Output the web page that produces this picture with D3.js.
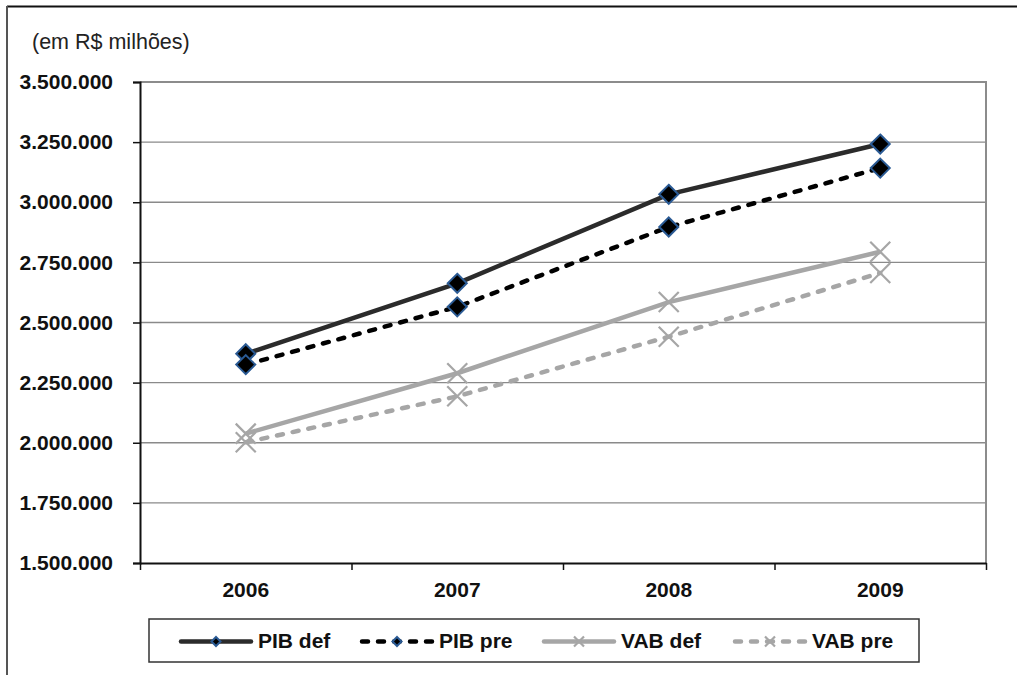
<!DOCTYPE html>
<html>
<head>
<meta charset="utf-8">
<script src="https://cdn.jsdelivr.net/npm/d3@7/dist/d3.min.js"></script>
<style>
  html, body { margin: 0; padding: 0; background: #fff; }
  svg { display: block; font-family: "Liberation Sans", Arial, sans-serif; }
</style>
</head>
<body>
<svg id="chart" width="1017" height="675"></svg>
<script>
// Years on the category axis
const years = ["2006", "2007", "2008", "2009"];

// Series values (R$ millions)
const pibDef = [2370000, 2663000, 3033000, 3242000];
const pibPre = [2325000, 2565000, 2897000, 3142000];
const vabDef = [2038000, 2289000, 2585000, 2794000];
const vabPre = [2002000, 2193000, 2441000, 2706000];

// Series names
const seriesNames = ["PIB def", "PIB pre", "VAB def", "VAB pre"];

// Value axis ticks
const yTicks = [1500000, 1750000, 2000000, 2250000, 2500000, 2750000, 3000000, 3250000, 3500000];

const unitLabel = "(em R$ milhões)";

const series = [
  { name: seriesNames[0], values: pibDef, color: "#2b2b2b", dash: null, marker: "diamond" },
  { name: seriesNames[1], values: pibPre, color: "#000000", dash: "6,10", marker: "diamond" },
  { name: seriesNames[2], values: vabDef, color: "#a6a6a6", dash: null, marker: "cross" },
  { name: seriesNames[3], values: vabPre, color: "#a6a6a6", dash: "6,10", marker: "cross" }
];

const svg = d3.select("#chart");
const plot = { left: 140, right: 986, top: 82, bottom: 563 };

const br = d3.formatLocale({ decimal: ",", thousands: ".", grouping: [3], currency: ["R$", ""] });
const fmt = br.format(",d");

const x = d3.scaleBand().domain(years).range([plot.left, plot.right]);
const xEdge = d3.scaleLinear().domain([0, years.length]).range([plot.left, plot.right]);
const y = d3.scaleLinear().domain([1500000, 3500000]).range([plot.bottom, plot.top]);

// Outer frame (top and left edges)
svg.append("line").attr("x1", 7).attr("x2", 1017).attr("y1", 6.5).attr("y2", 6.5)
  .attr("stroke", "#111").attr("stroke-width", 2);
svg.append("line").attr("x1", 7).attr("x2", 7).attr("y1", 6).attr("y2", 675)
  .attr("stroke", "#555").attr("stroke-width", 2);

// Unit label
svg.append("text").attr("x", 32).attr("y", 49)
  .attr("font-size", 21.5).attr("fill", "#222").text(unitLabel);

// Horizontal gridlines
svg.append("g").selectAll("line").data(yTicks.filter(d => d > 1500000 && d < 3500000)).join("line")
  .attr("x1", plot.left).attr("x2", plot.right)
  .attr("y1", d => y(d)).attr("y2", d => y(d))
  .attr("stroke", "#8a8a8a").attr("stroke-width", 1.3);

// Plot frame: top and right edges
svg.append("path")
  .attr("d", `M${plot.left},${plot.top}H${plot.right}V${plot.bottom}`)
  .attr("fill", "none").attr("stroke", "#8c8c8c").attr("stroke-width", 2);

// Y axis
const yAxis = svg.append("g").attr("transform", `translate(${plot.left},0)`)
  .call(d3.axisLeft(y).tickValues(yTicks).tickFormat(fmt).tickSize(7).tickPadding(20));
yAxis.select(".domain").attr("stroke", "#111").attr("stroke-width", 2);
yAxis.selectAll(".tick line").attr("stroke", "#111").attr("stroke-width", 1.5);
yAxis.selectAll(".tick text").attr("font-size", 21).attr("font-weight", "bold")
  .attr("fill", "#111").attr("font-family", "'Liberation Sans', Arial, sans-serif");

// X axis: tick marks at category boundaries
const xAxis = svg.append("g").attr("transform", `translate(0,${plot.bottom})`)
  .call(d3.axisBottom(xEdge).tickValues(d3.range(0, years.length + 1)).tickFormat("").tickSize(7).tickSizeOuter(0));
xAxis.select(".domain").attr("stroke", "#111").attr("stroke-width", 2);
xAxis.selectAll(".tick line").attr("stroke", "#111").attr("stroke-width", 1.5);

// X axis: category labels
const xLabels = svg.append("g").attr("transform", `translate(0,${plot.bottom})`)
  .call(d3.axisBottom(x).tickSize(0).tickPadding(19));
xLabels.select(".domain").remove();
xLabels.selectAll(".tick text").attr("font-size", 21).attr("font-weight", "bold")
  .attr("fill", "#111").attr("font-family", "'Liberation Sans', Arial, sans-serif");

// Markers
function drawMarker(g, type, cx, cy, s, color) {
  if (type === "diamond") {
    g.append("path")
      .attr("d", `M${cx},${cy - s}L${cx + s},${cy}L${cx},${cy + s}L${cx - s},${cy}Z`)
      .attr("fill", "#000").attr("stroke", "#2a5a94").attr("stroke-width", 2);
  } else {
    g.append("path")
      .attr("d", `M${cx - s},${cy - s}L${cx + s},${cy + s}M${cx - s},${cy + s}L${cx + s},${cy - s}`)
      .attr("fill", "none").attr("stroke", color).attr("stroke-width", 2.2);
  }
}

const line = d3.line().x((d, i) => x(years[i]) + x.bandwidth() / 2).y(d => y(d));

// Draw VAB series first, then PIB on top
[2, 3, 0, 1].forEach(k => {
  const s = series[k];
  const g = svg.append("g");
  g.append("path").datum(s.values)
    .attr("d", line)
    .attr("fill", "none").attr("stroke", s.color).attr("stroke-width", 4.5)
    .attr("stroke-linecap", s.dash ? "round" : "butt")
    .attr("stroke-dasharray", s.dash);
  s.values.forEach((v, i) => {
    drawMarker(g, s.marker, x(years[i]) + x.bandwidth() / 2, y(v), s.marker === "diamond" ? 9.5 : 10, s.color);
  });
});

// Legend
const legend = svg.append("g");
legend.append("rect").attr("x", 149).attr("y", 619).attr("width", 770).attr("height", 43)
  .attr("fill", "#fff").attr("stroke", "#333").attr("stroke-width", 1.5);
const legendX = [181, 362, 544, 735];
const legendY = 641.5;
series.forEach((s, k) => {
  const lx = legendX[k];
  legend.append("line").attr("x1", lx).attr("x2", lx + 70).attr("y1", legendY).attr("y2", legendY)
    .attr("stroke", s.color).attr("stroke-width", 4.5).attr("stroke-linecap", "round")
    .attr("stroke-dasharray", s.dash ? "6,10" : null);
  drawMarker(legend, s.marker, lx + 35, legendY, s.marker === "diamond" ? 4.5 : 5, s.color);
  legend.append("text").attr("x", lx + 77).attr("y", legendY + 6.5)
    .attr("font-size", 21).attr("font-weight", "bold").attr("fill", "#111").text(s.name);
});
</script>
</body>
</html>
